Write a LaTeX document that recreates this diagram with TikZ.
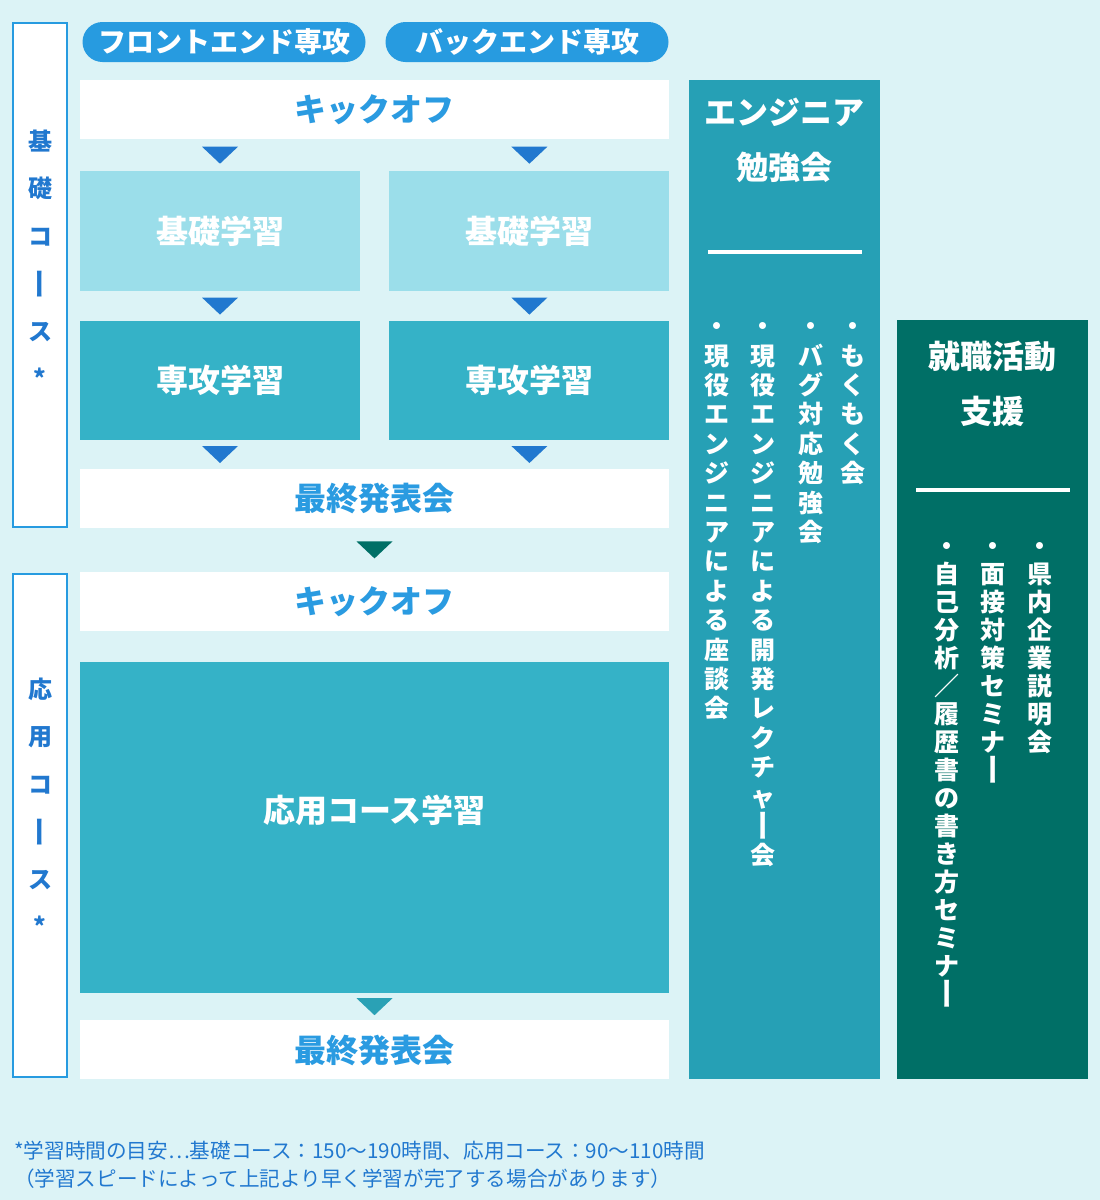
\documentclass[tikz,border=0pt]{standalone}
\usepackage{fontspec}
\setmainfont{Noto Sans CJK JP}
\usepackage{graphicx}
\usetikzlibrary{positioning,calc}

\definecolor{bgc}{HTML}{DCF3F6}
\definecolor{pillc}{HTML}{279BE0}
\definecolor{titlec}{HTML}{2A9BE1}
\definecolor{darkbl}{HTML}{2178CF}
\definecolor{kisoc}{HTML}{9BDEEA}
\definecolor{senc}{HTML}{35B2C7}
\definecolor{studyc}{HTML}{26A0B5}
\definecolor{jobc}{HTML}{006F66}
\definecolor{tric}{HTML}{2AA1B5}

\newcommand\kstrut{\vrule height .88em depth .12em width 0pt}
\ExplSyntaxOn
\tl_new:N \l__tate_tl
\NewDocumentCommand \tate { m }
  {
    \tl_clear:N \l__tate_tl
    \tl_map_inline:nn {#1}
      {
        \tl_if_empty:NF \l__tate_tl { \tl_put_right:Nn \l__tate_tl { \\ } }
        \str_if_eq:nnTF {##1} {ー}
          { \tl_put_right:Nn \l__tate_tl { \kstrut \rotatebox[origin=c]{-90}{\makebox[1em]{\kstrut\scalebox{1.3}[1]{ー}}} } }
          { \tl_put_right:Nn \l__tate_tl { \kstrut ##1 } }
      }
    \tl_use:N \l__tate_tl
  }
\ExplSyntaxOff

\begin{document}
\begin{tikzpicture}[x=1pt,y=-1pt,
  box/.style={rectangle,inner sep=0pt,font=\fontsize{32}{38}\selectfont\bfseries,execute at begin node=\kstrut},
  whitebox/.style={box,fill=white,text=titlec,minimum width=589pt,minimum height=59pt},
  kisobox/.style={box,fill=kisoc,text=white,minimum width=280pt,minimum height=120pt},
  senbox/.style={box,fill=senc,text=white,minimum width=280pt,minimum height=119pt},
  pill/.style={box,fill=pillc,text=white,rounded corners=20pt,minimum width=283pt,minimum height=40pt,
    font=\fontsize{28}{32}\selectfont\bfseries},
  course/.style={draw=pillc,line width=2pt,fill=white,minimum width=54pt},
  tatelabel/.style={inner sep=0pt,align=center,text=darkbl,font=\fontsize{24}{47.5}\selectfont\bfseries},
  sidecol/.style={inner sep=0pt,minimum width=191pt},
  coltitle/.style={inner sep=0pt,align=center,text=white,font=\fontsize{32}{55}\selectfont\bfseries},
  bar/.style={fill=white,inner sep=0pt,minimum width=154pt,minimum height=3.5pt},
  listcol/.style={inner sep=0pt,align=center,anchor=north,text=white,font=\fontsize{25}{29.4}\selectfont\bfseries},
  dtri/.pic={\fill[#1] (-18,-8.5) -- (18,-8.5) -- (0,8.5) -- cycle;}]
\fill[bgc] (0,0) rectangle (1100,1200);
\useasboundingbox (0,0) rectangle (1100,1200);

% majors
\node[pill] (front) at (224,42) {フロントエンド専攻};
\node[pill] (back) at (527,42) {バックエンド専攻};

% course brackets
\node[course,minimum height=504pt] (kiso) at (40,275) {};
\node[course,minimum height=503pt] (ouyou) at (40,825.5) {};
\node[tatelabel,below=107pt of kiso.north,anchor=north] (kisolab) {\tate{基礎コース*}};
\node[tatelabel,below=104pt of ouyou.north,anchor=north] (ouyoulab) {\tate{応用コース*}};

% flow
\node[whitebox] (kick1) at (374.5,109.5) {キックオフ};
\node[kisobox,below=32pt of kick1.south west,anchor=north west] (kisoF) {基礎学習};
\node[kisobox,right=29pt of kisoF] (kisoB) {基礎学習};
\node[senbox,below=29pt of kisoF] (senF) {専攻学習};
\node[senbox,below=29pt of kisoB] (senB) {専攻学習};
\node[whitebox,below=29pt of senF.south west,anchor=north west] (final1) {最終発表会};
\node[whitebox,below=43pt of final1] (kick2) {キックオフ};
\node[senbox,minimum width=589pt,minimum height=331pt,text depth=39pt,below=31pt of kick2] (apply) {応用コース学習};
\node[whitebox,below=27pt of apply] (final2) {最終発表会};

\pic at ($(kick1.south -| kisoF)!.5!(kisoF.north)$) {dtri=darkbl};
\pic at ($(kick1.south -| kisoB)!.5!(kisoB.north)$) {dtri=darkbl};
\pic at ($(kisoF.south)!.5!(senF.north)$) {dtri=darkbl};
\pic at ($(kisoB.south)!.5!(senB.north)$) {dtri=darkbl};
\pic at ($(senF.south)!.5!(final1.north -| senF)$) {dtri=darkbl};
\pic at ($(senB.south)!.5!(final1.north -| senB)$) {dtri=darkbl};
\pic at ($(final1.south)!.5!(kick2.north)$) {dtri=jobc};
\pic at ($(apply.south)!.5!(final2.north)$) {dtri=tric};

% side columns
\node[sidecol,fill=studyc,minimum height=999pt] (study) at (784.5,579.5) {};
\node[sidecol,fill=jobc,minimum height=759pt] (job) at (992.5,699.5) {};
\node[coltitle,below=16pt of study.north,anchor=north] (studyT) {\kstrut エンジニア\\\kstrut 勉強会};
\node[coltitle,below=20.5pt of job.north,anchor=north] (jobT) {\kstrut 就職活動\\\kstrut 支援};
\node[bar,below=170pt of study.north] (studybar) {};
\node[bar,below=168pt of job.north] (jobbar) {};

\node[listcol] (s1) at (853,313.5) {\tate{・もくもく会}};
\node[listcol] (s2) at (810.7,313.5) {\tate{・バグ対応勉強会}};
\node[listcol] (s3) at (762.7,313.5) {\tate{・現役エンジニアによる開発レクチャー会}};
\node[listcol] (s4) at (716.7,313.5) {\tate{・現役エンジニアによる座談会}};

\node[listcol,font=\fontsize{25}{28}\selectfont\bfseries] (j1) at (1040,533.5) {\tate{・県内企業説明会}};
\node[listcol,font=\fontsize{25}{28}\selectfont\bfseries] (j2) at (993,533.5) {\tate{・面接対策セミナー}};
\node[listcol,font=\fontsize{25}{28}\selectfont\bfseries] (j3) at (946.7,533.5) {\tate{・自己分析／履歴書の書き方セミナー}};

% note
\node[inner sep=0pt,anchor=north west,align=left,text=darkbl,font=\fontsize{20.6}{28}\selectfont] (note) at (14,1140)
  {\kstrut *学習時間の目安…基礎コース：150〜190時間、応用コース：90〜110時間\\
   \kstrut （学習スピードによって上記より早く学習が完了する場合があります）};
\end{tikzpicture}
\end{document}
